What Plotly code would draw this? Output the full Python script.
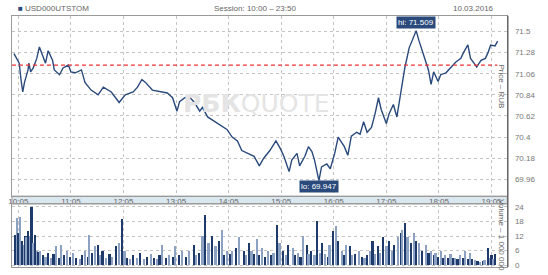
import plotly.graph_objects as go

DAY = "2016-03-10 "

price_times = ["10:00","10:03","10:06","10:08","10:10","10:12","10:16","10:17","10:19","10:22",
               "10:26","10:29","10:33","10:36","10:39","10:44","10:46","10:52","10:56","11:02",
               "11:05","11:10","11:17","11:21","11:28","11:36","11:42","11:51","12:00","12:07",
               "12:16","12:21","12:26","12:30","12:38","12:50","12:55","13:01","13:06","13:09",
               "13:15","13:20","13:26","13:32","13:35","13:41","13:49","13:58","14:03","14:09",
               "14:15","14:20","14:28","14:34","14:40","14:45","14:52","14:59","15:04","15:08",
               "15:14","15:17","15:23","15:26","15:32","15:36","15:40","15:43","15:48","15:51",
               "15:57","16:01","16:06","16:10","16:17","16:21","16:25","16:31","16:35","16:39",
               "16:43","16:48","16:52","16:56","16:59","17:05","17:08","17:13","17:17","17:22",
               "17:26","17:31","17:35","17:39","17:42","17:47","17:50","17:53","17:56","17:59",
               "18:04","18:07","18:13","18:18","18:24","18:30","18:33","18:38","18:41","18:45",
               "18:48","18:53","18:58","19:01","19:04","19:09","19:12"]
price_values = [71.27,71.22,71.17,71.00,70.87,70.97,71.10,71.17,71.08,71.12,
                71.22,71.34,71.25,71.17,71.30,71.20,71.10,71.05,71.12,71.15,
                71.08,71.07,71.10,70.97,70.89,70.84,70.92,70.87,70.76,70.84,
                70.87,70.92,71.00,70.97,70.89,70.87,70.86,70.81,70.67,70.77,
                70.81,70.82,70.76,70.67,70.71,70.61,70.56,70.51,70.48,70.40,
                70.36,70.26,70.23,70.20,70.10,70.18,70.26,70.36,70.28,70.20,
                70.04,70.16,70.23,70.10,70.20,70.30,70.25,70.16,69.947,70.09,
                70.12,70.07,70.23,70.40,70.30,70.21,70.41,70.45,70.43,70.56,
                70.45,70.50,70.64,70.81,70.69,70.54,70.64,70.74,70.61,70.87,
                71.12,71.33,71.43,71.509,71.41,71.27,71.18,71.10,70.95,71.08,
                70.98,71.05,71.07,71.12,71.18,71.22,71.28,71.36,71.22,71.17,
                71.13,71.20,71.22,71.28,71.36,71.35,71.40]

vol_times = ["10:01","10:03","10:05","10:07","10:09","10:11","10:13","10:14","10:16","10:18",
             "10:20","10:22","10:24","10:26","10:28","10:30","10:33","10:36","10:39","10:42",
             "10:45","10:48","10:51","10:54","10:57","11:00","11:04","11:07","11:11","11:15",
             "11:18","11:21","11:24","11:26","11:29","11:32","11:36","11:38","11:41","11:45",
             "11:49","11:52","11:56","12:00","12:03","12:06","12:09","12:12","12:16","12:20",
             "12:24","12:28","12:32","12:36","12:40","12:43","12:46","12:49","12:53","12:57",
             "13:01","13:04","13:08","13:12","13:16","13:20","13:25","13:28","13:31","13:35",
             "13:38","13:42","13:46","13:50","13:54","13:57","14:00","14:03","14:06","14:09",
             "14:13","14:17","14:22","14:25","14:28","14:31","14:34","14:37","14:40","14:43",
             "14:46","14:50","14:53","14:56","15:00","15:03","15:07","15:10","15:13","15:18",
             "15:21","15:24","15:27","15:30","15:34","15:36","15:39","15:43","15:46","15:49",
             "15:51","15:55","15:58","16:00","16:04","16:07","16:10","16:14","16:17","16:19",
             "16:23","16:26","16:29","16:34","16:37","16:40","16:43","16:46","16:49","16:52",
             "16:55","16:58","17:01","17:05","17:08","17:11","17:14","17:18","17:22","17:23",
             "17:26","17:29","17:33","17:36","17:39","17:42","17:46","17:50","17:53","17:56",
             "17:59","18:01","18:04","18:07","18:10","18:12","18:15","18:18","18:21","18:23",
             "18:26","18:29","18:32","18:35","18:38","18:40","18:43","18:46","18:49","18:52",
             "18:55","18:57","19:01","19:03","19:05","19:07","19:09"]
vol_values = [12.6,19.5,13.4,20.0,10.0,8.5,12.0,11.4,14.0,12.0,
              24.0,9.0,12.6,6.0,5.5,6.0,4.0,3.5,5.0,3.0,
              4.5,8.0,3.0,8.5,4.0,6.0,3.5,5.0,3.0,2.5,
              4.0,6.0,3.5,12.6,5.0,8.0,8.5,4.0,6.0,3.0,
              4.5,3.5,8.0,9.0,19.0,6.0,3.0,2.5,4.0,3.0,
              5.0,2.5,3.5,4.5,3.0,2.5,4.0,8.5,3.0,4.0,
              3.5,8.0,4.0,6.0,3.5,6.0,8.5,4.0,5.0,12.0,
              20.8,9.0,12.0,8.0,10.0,14.6,4.0,6.0,4.5,6.0,
              7.0,11.4,6.0,4.0,9.0,6.0,4.5,10.6,4.0,7.0,
              3.5,6.0,4.0,5.0,16.7,9.0,6.0,4.0,8.5,7.0,
              4.0,5.0,3.5,12.0,8.5,4.5,6.0,4.0,18.0,5.0,
              9.0,4.5,3.5,8.5,14.0,16.0,10.0,6.0,4.0,8.5,
              8.0,4.0,4.5,6.0,3.5,3.0,4.0,6.0,10.0,4.5,
              8.0,5.0,11.4,8.0,10.0,6.0,8.5,11.4,13.4,14.6,
              17.5,11.4,9.0,13.4,10.0,9.0,6.0,8.5,5.0,6.0,
              4.0,5.0,3.5,6.0,3.0,4.0,3.0,4.5,3.0,3.0,
              2.5,4.0,3.0,6.0,2.5,5.0,2.5,2.0,1.5,1.2,
              1.5,2.0,7.0,3.0,4.0,2.5,4.5]

prev_close = 71.15
hi_time, hi_value = "17:39", 71.509
lo_time, lo_value = "15:48", 69.947

price_ticks = [69.96, 70.18, 70.4, 70.62, 70.84, 71.06, 71.28, 71.5]
price_tick_text = ["69.96", "70.18", "70.4", "70.62", "70.84", "71.06", "71.28", "71.5"]
vol_ticks = [0, 6, 12, 18, 24]
time_ticks = ["10:05", "11:05", "12:05", "13:05", "14:05", "15:05", "16:05", "17:05", "18:05", "19:05"]

ticker = "USD000UTSTOM"
session = "Session: 10:00 – 23:50"
date_text = "10.03.2016"

W, H = 548, 275
NAVY = "#2a4a7c"
GRID = "#c4c4c4"
TXT = "#777777"

def px_x(p):
    return p / W

def px_y(p):
    return 1 - p / H

x_range = [DAY + "09:57:40", DAY + "19:23:00"]

fig = go.Figure()

fig.add_trace(go.Scatter(
    x=[DAY + t for t in price_times], y=price_values,
    mode="lines", line=dict(color=NAVY, width=1.4),
    xaxis="x", yaxis="y", hoverinfo="skip", showlegend=False))

bar_colors = [("#1e3a6a" if i % 2 == 0 else "#8da1c2") for i in range(len(vol_values))]
fig.add_trace(go.Bar(
    x=[DAY + t for t in vol_times], y=vol_values,
    marker=dict(color=bar_colors, line=dict(width=0)),
    width=150000, xaxis="x2", yaxis="y2", hoverinfo="skip", showlegend=False))

# previous close line
fig.add_shape(type="line", xref="paper", yref="y",
              x0=px_x(8), x1=px_x(497), y0=prev_close, y1=prev_close,
              line=dict(color="#ee3333", width=1.3, dash="4px,3px"))

# x tick strip
fig.add_shape(type="rect", xref="paper", yref="paper",
              x0=px_x(8), x1=px_x(507), y0=px_y(206), y1=px_y(198),
              fillcolor="#dbe7ef", line=dict(color="#9a9a9a", width=1), layer="below")

# dark right frame line
fig.add_shape(type="line", xref="paper", yref="paper",
              x0=px_x(507.5), x1=px_x(507.5), y0=px_y(270), y1=px_y(15),
              line=dict(color="#666666", width=1.5))

axis_common = dict(showgrid=True, gridcolor=GRID, griddash="dot", gridwidth=1,
                   zeroline=False, showline=True, linecolor="#9a9a9a", mirror=True)

fig.update_layout(
    width=W, height=H, margin=dict(l=0, r=0, t=0, b=0),
    paper_bgcolor="white", plot_bgcolor="rgba(0,0,0,0)",
    font=dict(family="Liberation Sans, Arial, sans-serif", size=8, color=TXT),
    bargap=0,
    xaxis=dict(domain=[px_x(8), px_x(507)], anchor="y", type="date", range=x_range,
               tickvals=[DAY + t for t in time_ticks], ticktext=time_ticks,
               ticks="", ticklabelstandoff=-3, tickfont=dict(size=8, color="#666666"),
               **axis_common),
    yaxis=dict(domain=[px_y(198), px_y(15)], anchor="x", side="right",
               range=[69.785, 71.664], tickvals=price_ticks, ticktext=price_tick_text,
               ticks="", ticklabelstandoff=5, tickfont=dict(size=8, color=TXT), **axis_common),
    xaxis2=dict(domain=[px_x(8), px_x(507)], anchor="y2", type="date", range=x_range,
                tickvals=[DAY + t for t in time_ticks], showticklabels=False,
                ticks="", matches="x", **axis_common),
    yaxis2=dict(domain=[px_y(270), px_y(206)], anchor="x2", side="right",
                range=[-0.8, 25.2], tickvals=vol_ticks,
                ticks="", ticklabelstandoff=5, tickfont=dict(size=8, color=TXT), **axis_common),
)

annotations = [
    dict(x=px_x(12), y=px_y(8), xref="paper", yref="paper", text="■", showarrow=False,
         xanchor="left", yanchor="middle", font=dict(size=8, color="#2a4a7c")),
    dict(x=px_x(19), y=px_y(8), xref="paper", yref="paper", text=ticker, showarrow=False,
         xanchor="left", yanchor="middle", font=dict(size=8, color="#666666")),
    dict(x=px_x(253), y=px_y(8), xref="paper", yref="paper", text=session, showarrow=False,
         xanchor="center", yanchor="middle", font=dict(size=8, color="#666666")),
    dict(x=px_x(496), y=px_y(8), xref="paper", yref="paper", text=date_text, showarrow=False,
         xanchor="right", yanchor="middle", font=dict(size=8, color="#666666")),
    dict(x=DAY + hi_time, y=hi_value, xref="x", yref="y", text="hi: %.3f" % hi_value,
         showarrow=False, yshift=8, yanchor="middle", xanchor="center",
         bgcolor="#2a4a7c", borderpad=1, font=dict(size=8, color="white")),
    dict(x=DAY + lo_time, y=lo_value, xref="x", yref="y", text="lo: %.3f" % lo_value,
         showarrow=False, yshift=-6, yanchor="middle", xanchor="center",
         bgcolor="#2a4a7c", borderpad=1, font=dict(size=8, color="white")),
    dict(x=px_x(501), y=px_y(87), xref="paper", yref="paper", text="Price – RUB",
         showarrow=False, textangle=90, xanchor="center", yanchor="middle",
         font=dict(size=8, color="#666666")),
    dict(x=px_x(501), y=px_y(238), xref="paper", yref="paper", text="Volume – 1 000 000",
         showarrow=False, textangle=90, xanchor="center", yanchor="middle",
         font=dict(size=8, color="#666666")),
    dict(x=px_x(254), y=px_y(104), xref="paper", yref="paper",
         text="<b>РБК</b>QUOTE", showarrow=False, xanchor="center", yanchor="middle",
         font=dict(size=25, color="#e4e4e4", family="DejaVu Sans, sans-serif")),
]
fig.update_layout(annotations=annotations)

fig.write_html("out.html")
